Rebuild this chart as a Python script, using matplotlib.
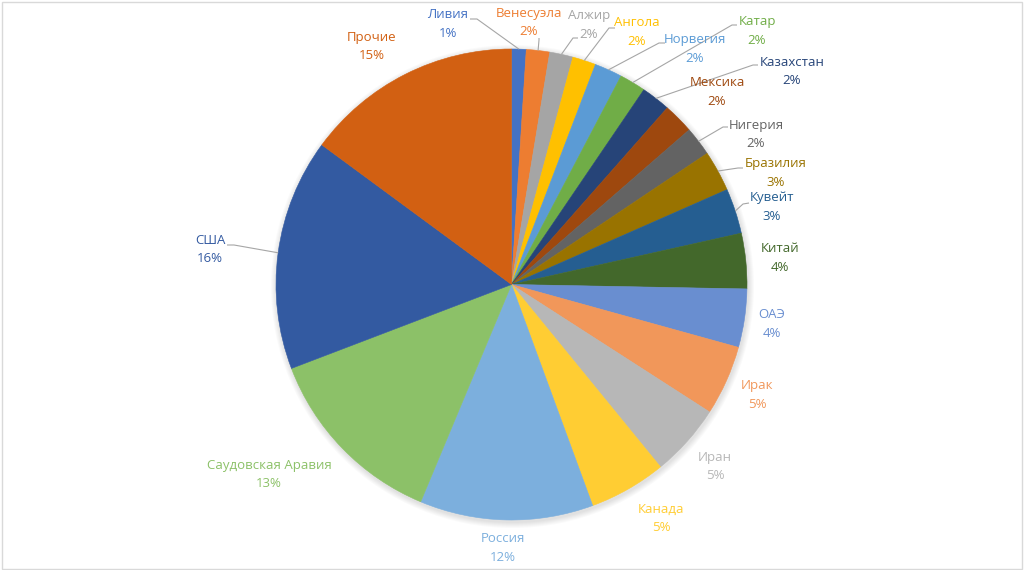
import matplotlib
matplotlib.use("Agg")
import matplotlib.pyplot as plt
import numpy as np

# ---- data ----
countries = ["Ливия", "Венесуэла", "Алжир", "Ангола", "Норвегия", "Катар",
             "Казахстан", "Мексика", "Нигерия", "Бразилия", "Кувейт", "Китай",
             "ОАЭ", "Ирак", "Иран", "Канада", "Россия", "Саудовская Аравия",
             "США", "Прочие"]
shares = [1.0, 1.6, 1.6, 1.6, 1.9, 1.8, 2.0, 2.1, 2.0, 2.8, 3.1, 3.8,
          4.0, 4.8, 5.0, 5.3, 11.9, 12.9, 15.9, 14.9]

# ---- style ----
colors = ["#4472C4", "#ED7D31", "#A5A5A5", "#FFC000", "#5B9BD5", "#70AD47",
          "#264478", "#9E480E", "#636363", "#997300", "#255E91", "#43682B",
          "#698ED0", "#F1975A", "#B7B7B7", "#FFCD33", "#7CAFDD", "#8CC168",
          "#335AA1", "#D26012"]

W, H = 1024, 570
CX, CY, R = 511.5, 284.5, 235.5

# label centre (name line) in pixel coords
label_pos = [(448, 15), (529, 13), (589, 16), (637, 23), (695, 40), (757, 22),
             (792, 62), (717, 83), (756, 125), (776, 164), (772, 198), (780, 249),
             (772, 315), (757, 386), (715, 457), (661, 509), (503, 539), (269, 465),
             (210, 240), (372, 37)]
# leader line start and knee in pixel coords (None = no leader)
leaders = {0: [(470, 19), (477, 19)],
           1: [(539, 38), (539, 40)],
           2: [(578, 38), (573, 38)],
           3: [(615, 28), (609, 28)],
           4: [(665, 43), (659, 43)],
           5: [(737, 25), (732, 25)],
           6: [(758, 65), (753, 65)],
           8: [(728, 127), (723, 127)],
           9: [(743, 168), (738, 168)],
           10: [(749, 203), (743, 204)],
           18: [(227, 245), (234, 245)]}

plt.rcParams['font.family'] = ['Open Sans', 'DejaVu Sans']

fig = plt.figure(figsize=(W / 100, H / 100), dpi=100)
ax = fig.add_axes([0, 0, 1, 1])

def py(y):
    return H - y

# soft shadow
for k in range(6):
    ax.add_patch(plt.Circle((CX + 1, py(CY) - 2), R + 1 + k, color="#000000",
                            alpha=0.018, lw=0, zorder=0))

wedges, _ = ax.pie(shares, colors=colors, startangle=90, counterclock=False,
                   center=(CX, py(CY)), radius=R,
                   wedgeprops=dict(linewidth=0.4))
for w in wedges:
    w.set_edgecolor(w.get_facecolor())

total = sum(shares)
cum = 0.0
for i, (name, v) in enumerate(zip(countries, shares)):
    mid = (cum + v / 2) / total * 360.0
    cum += v
    lx, ly = label_pos[i]
    pct = f"{round(v / total * 100):d}%"
    ax.text(lx, py(ly), name, color=colors[i], fontsize=9.5,
            ha="center", va="center", zorder=5)
    ax.text(lx, py(ly + 18.5), pct, color=colors[i], fontsize=9.5,
            ha="center", va="center", zorder=5)
    if i in leaders:
        ex = CX + R * np.sin(np.radians(mid))
        ey = CY - R * np.cos(np.radians(mid))
        pts = leaders[i] + [(ex, ey)]
        ax.plot([p[0] for p in pts], [py(p[1]) for p in pts],
                color="#A6A6A6", lw=0.8, zorder=4, solid_capstyle="butt")

# chart border
ax.add_patch(plt.Rectangle((1.5, py(568.5)), W - 3.5, 567, fill=False,
                           ec="#D9D9D9", lw=1.0, zorder=6))

ax.set_xlim(0, W)
ax.set_ylim(0, H)
ax.set_aspect("auto")
ax.axis("off")
fig.savefig("out.png", dpi=100, facecolor="white")
